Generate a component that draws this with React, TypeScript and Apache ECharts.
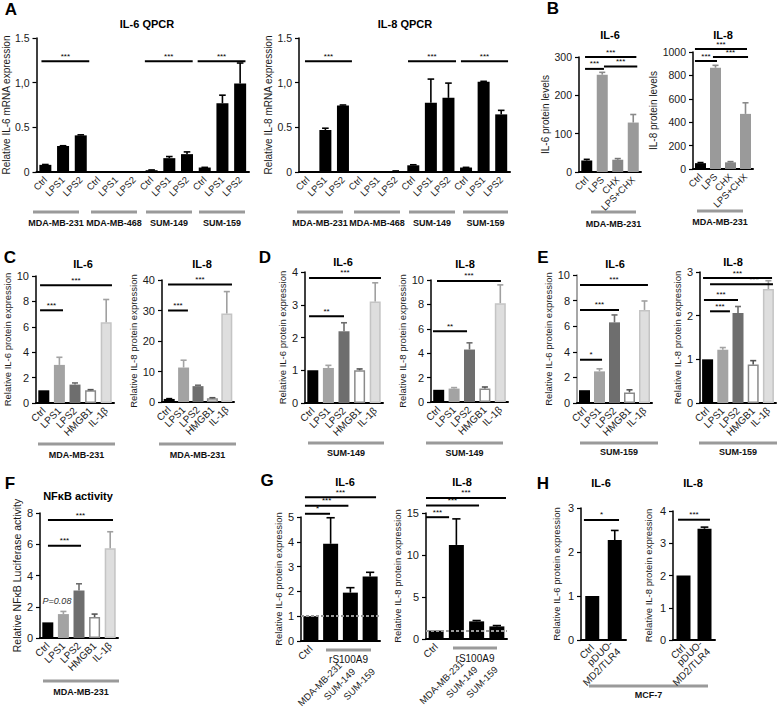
import React, { useEffect, useRef } from "react";
import * as echarts from "echarts";

const FONT = '"Liberation Sans", Arial, Helvetica, sans-serif';

// ---------------- Panel A : qPCR ----------------
const qpcrCategories = ["Ctrl", "LPS1", "LPS2", "Ctrl", "LPS1", "LPS2", "Ctrl", "LPS1", "LPS2", "Ctrl", "LPS1", "LPS2"];
const qpcrCellLines = ["MDA-MB-231", "MDA-MB-468", "SUM-149", "SUM-159"];
const qpcrTickLabels = ["0", "0.5", "1,0", "1.5"];
const il6QpcrMeans = [0.08, 0.29, 0.41, 0.005, 0.005, 0.003, 0.02, 0.155, 0.2, 0.05, 0.77, 0.99];
const il6QpcrSem = [0.004, 0.004, 0.006, 0, 0, 0, 0.003, 0.018, 0.025, 0.002, 0.09, 0.23];
const il6QpcrSig = [[-0.22, 2.48, 1.24, "***"], [5.62, 8.32, 1.24, "***"], [8.6, 11.3, 1.24, "***"]];
const il8QpcrMeans = [0.005, 0.47, 0.745, 0.005, 0.005, 0.01, 0.075, 0.775, 0.83, 0.05, 1.01, 0.645];
const il8QpcrSem = [0, 0.02, 0.005, 0, 0, 0.002, 0.006, 0.265, 0.165, 0.002, 0.005, 0.045];
const il8QpcrSig = [[-0.16, 2.51, 1.24, "***"], [5.7, 8.43, 1.24, "***"], [8.71, 11.39, 1.24, "***"]];

// ---------------- Panel B : CHX ----------------
const chxCategories = ["Ctrl", "LPS", "CHX", "LPS+CHX"];
const chxCellLine = "MDA-MB-231";
const il6LevelMeans = [30, 254, 32, 129];
const il6LevelSem = [3, 6, 3, 21];
const il6LevelSig = [[-0.11, 3.2, 300, "***"], [-0.11, 1.11, 269, "***"], [1.11, 3.26, 275, "***"]];
const il8LevelMeans = [50, 866, 57, 471];
const il8LevelSem = [5, 20, 6, 95];
const il8LevelSig = [[-0.37, 3.1, 1025, "***"], [0.83, 3.17, 957, "***"], [-0.37, 1.1, 923, "***"]];

// ---------------- Panels C–F : treatments ----------------
const treatmentCategories = ["Ctrl", "LPS1", "LPS2", "HMGB1", "IL-1β"];
const cIl6Means = [1.0, 3.0, 1.45, 1.0, 6.35];
const cIl6Sem = [0, 0.6, 0.13, 0.05, 1.8];
const cIl6Sig = [[-0.24, 4.37, 9.27, "***"], [-0.24, 1.23, 7.3, "***"]];
const cIl8Means = [1.0, 11.3, 5.2, 1.2, 29.0];
const cIl8Sem = [0.1, 2.4, 0.3, 0.2, 7.2];
const cIl8Sig = [[-0.08, 4.36, 38.5, "***"], [-0.08, 1.3, 30, "***"]];

const dIl6Means = [1.0, 1.07, 2.19, 1.0, 3.1];
const dIl6Sem = [0, 0.08, 0.26, 0.04, 0.57];
const dIl6Sig = [[-0.24, 4.37, 3.82, "***"], [-0.24, 2.0, 2.65, "**"]];
const dIl8Means = [1.0, 1.1, 4.3, 1.1, 8.1];
const dIl8Sem = [0, 0.08, 0.55, 0.13, 1.5];
const dIl8Sig = [[-0.11, 4.04, 9.92, "***"], [-0.37, 1.84, 5.8, "**"]];

const eIl6Means = [1.0, 2.47, 6.3, 0.83, 7.27];
const eIl6Sem = [0, 0.2, 0.58, 0.2, 0.7];
const eIl6Sig = [[-0.3, 4.23, 9.22, "***"], [-0.3, 2.3, 7.27, "***"], [-0.3, 1.17, 3.38, "*"]];
const eIl8Means = [1.0, 1.22, 2.06, 0.88, 2.61];
const eIl8Sem = [0, 0.05, 0.15, 0.09, 0.19];
const eIl8Sig = [[-0.3, 4.24, 2.86, "***"], [0.16, 4.3, 2.72, "***", 0.7], [-0.24, 2.0, 2.36, "***"], [0.16, 1.47, 2.1, "***"]];

const fNfkbMeans = [1.0, 1.53, 3.04, 1.34, 5.74];
const fNfkbSem = [0, 0.17, 0.43, 0.19, 1.06];
const fNfkbSig = [[0.01, 4.18, 7.55, "***"], [0.01, 2.13, 5.9, "***"]];
const fPValueNote = "P=0.08";

// ---------------- Panel G : rS100A9 ----------------
const s100Categories = ["Ctrl", "MDA-MB-231", "SUM-149", "SUM-159"];
const s100Treatment = "rS100A9";
const gIl6Means = [1.0, 3.92, 1.95, 2.6];
const gIl6Sem = [0, 1.05, 0.2, 0.17];
const gIl6Sig = [[-0.3, 0.97, 5.13, "*"], [-0.3, 1.9, 5.45, "***"], [-0.3, 3.3, 5.8, "***"]];
const gIl8Means = [1.0, 11.2, 2.1, 1.5];
const gIl8Sem = [0, 3.1, 0.1, 0.1];
const gIl8Sig = [[-0.5, 0.64, 14.5, "***"], [-0.5, 2.12, 15.9, "***"], [-0.5, 3.45, 16.8, "***"]];
const baselineValue = 1;

// ---------------- Panel H : TLR4 ----------------
const tlr4Categories = ["Ctrl", "pDUO-\nMD2/TLR4"];
const tlr4CellLine = "MCF-7";
const hIl6Means = [1.0, 2.27];
const hIl6Sem = [0, 0.22];
const hIl6Sig = [[-0.37, 1.19, 2.73, "*"]];
const hIl8Means = [2.0, 3.45];
const hIl8Sem = [0, 0.05];
const hIl8Sig = [[-0.26, 1.26, 3.73, "***"]];

// ---------------- styles ----------------
const BLACK = "#000000";
const treatFill = ["#000000", "#a3a3a3", "#6e6e6e", "#ffffff", "#dedede"];
const treatBorder = ["#000000", "#a3a3a3", "#6e6e6e", "#8a8a8a", "#c4c4c4"];
const treatErr = ["#000000", "#a3a3a3", "#6e6e6e", "#555555", "#a0a0a0"];
const chxFill = ["#000000", "#9a9a9a", "#878787", "#9a9a9a"];
const chxErr = ["#000000", "#8a8a8a", "#777777", "#8a8a8a"];

type Plot = {
  cats: string[];
  means: number[];
  sem: number[];
  sig: any[];
  box: [number, number, number, number];
  max: number;
  interval: number;
  yName: string;
  nameGap: number;
  nameFont?: number;
  barW: number;
  fill: string[];
  border: string[];
  err: string[];
  yFmt?: (v: number, i: number) => string;
  xFont?: number;
  yFont?: number;
  xFmt?: (v: string, i: number) => string;
  yAxisColor?: string;
  baseline?: number;
  lowLabels?: [number, number];
};

const rep = (c: string, n: number) => Array.from({ length: n }, () => c);
const plain = (v: number) => String(v);

const plots: Plot[] = [
  {
    cats: qpcrCategories, means: il6QpcrMeans, sem: il6QpcrSem, sig: il6QpcrSig,
    box: [35, 249, 38, 172], max: 1.5, interval: 0.5, yName: "Relative IL-6 mRNA expression",
    nameGap: 20, nameFont: 10, barW: 12, fill: rep(BLACK, 12), border: rep(BLACK, 12), err: rep(BLACK, 12),
    yFmt: (_v, i) => qpcrTickLabels[i], xFont: 9.5, yFont: 10.5,
  },
  {
    cats: qpcrCategories, means: il8QpcrMeans, sem: il8QpcrSem, sig: il8QpcrSig,
    box: [299, 510, 38, 172], max: 1.5, interval: 0.5, yName: "Relative IL-8 mRNA expression",
    nameGap: 24, nameFont: 10, barW: 12, fill: rep(BLACK, 12), border: rep(BLACK, 12), err: rep(BLACK, 12),
    yFmt: (_v, i) => qpcrTickLabels[i], xFont: 9.5, yFont: 10.5,
  },
  {
    cats: chxCategories, means: il6LevelMeans, sem: il6LevelSem, sig: il6LevelSig,
    box: [579, 641, 57, 172], max: 300, interval: 100, yName: "IL-6 protein levels",
    nameGap: 22, nameFont: 10, barW: 11, fill: chxFill, border: chxFill, err: chxErr, xFont: 9.5, yFont: 10.5,
  },
  {
    cats: chxCategories, means: il8LevelMeans, sem: il8LevelSem, sig: il8LevelSig,
    box: [693, 753, 52, 169], max: 1000, interval: 200, yName: "IL-8 protein levels",
    nameGap: 30, nameFont: 10, barW: 11, fill: chxFill, border: chxFill, err: chxErr, xFont: 9.5, yFont: 10.5,
  },
  {
    cats: treatmentCategories, means: cIl6Means, sem: cIl6Sem, sig: cIl6Sig,
    box: [36, 114, 276, 403], max: 10, interval: 2, yName: "Relative IL-6 protein expression",
    nameGap: 19, barW: 11, fill: treatFill, border: treatBorder, err: treatErr,
  },
  {
    cats: treatmentCategories, means: cIl8Means, sem: cIl8Sem, sig: cIl8Sig,
    box: [162, 234, 280, 402], max: 40, interval: 10, yName: "Relative IL-8 protein expression",
    nameGap: 19, barW: 11, fill: treatFill, border: treatBorder, err: treatErr,
  },
  {
    cats: treatmentCategories, means: dIl6Means, sem: dIl6Sem, sig: dIl6Sig,
    box: [305, 383, 272, 403], max: 4, interval: 1, yName: "Relative IL-6 protein expression",
    nameGap: 17, barW: 11, fill: treatFill, border: treatBorder, err: treatErr,
  },
  {
    cats: treatmentCategories, means: dIl8Means, sem: dIl8Sem, sig: dIl8Sig,
    box: [431, 508, 280, 402], max: 10, interval: 2, yName: "Relative IL-8 protein expression",
    nameGap: 21, barW: 11, fill: treatFill, border: treatBorder, err: treatErr,
  },
  {
    cats: treatmentCategories, means: eIl6Means, sem: eIl6Sem, sig: eIl6Sig,
    box: [577, 652, 275, 403], max: 10, interval: 2, yName: "Relative IL-6 protein expression",
    nameGap: 19, barW: 11, fill: treatFill, border: treatBorder, err: treatErr, yAxisColor: "#8a8a8a",
  },
  {
    cats: treatmentCategories, means: eIl8Means, sem: eIl8Sem, sig: eIl8Sig,
    box: [700, 776, 272, 403], max: 3, interval: 1, yName: "Relative IL-8 protein expression",
    nameGap: 18, barW: 11, fill: treatFill, border: treatBorder, err: treatErr,
  },
  {
    cats: treatmentCategories, means: fNfkbMeans, sem: fNfkbSem, sig: fNfkbSig,
    box: [40, 118, 513, 638], max: 8, interval: 2, yName: "Relative NFκB Luciferase activity",
    nameGap: 15, nameFont: 10.5, barW: 11, fill: treatFill, border: treatBorder, err: treatErr,
  },
  {
    cats: s100Categories, means: gIl6Means, sem: gIl6Sem, sig: gIl6Sig,
    box: [301, 380, 517, 641], max: 5, interval: 1, yName: "Relative IL-6 protein expression",
    nameGap: 14, barW: 15, fill: rep(BLACK, 4), border: rep(BLACK, 4), err: rep(BLACK, 4),
    xFmt: (v, i) => (i === 0 ? v : ""), baseline: baselineValue, lowLabels: [-11, 43],
  },
  {
    cats: s100Categories, means: gIl8Means, sem: gIl8Sem, sig: gIl8Sig,
    box: [426, 507, 513, 639], max: 15, interval: 5, yName: "Relative IL-8 protein expression",
    nameGap: 18, barW: 15, fill: rep(BLACK, 4), border: rep(BLACK, 4), err: rep(BLACK, 4),
    xFmt: (v, i) => (i === 0 ? v : ""), baseline: baselineValue, lowLabels: [-15, 43],
  },
  {
    cats: tlr4Categories, means: hIl6Means, sem: hIl6Sem, sig: hIl6Sig,
    box: [581, 626, 508, 640], max: 3, interval: 1, yName: "Relative IL-6 protein expression",
    nameGap: 20, barW: 14, fill: rep(BLACK, 2), border: rep(BLACK, 2), err: rep(BLACK, 2),
  },
  {
    cats: tlr4Categories, means: hIl8Means, sem: hIl8Sem, sig: hIl8Sig,
    box: [673, 715, 511, 640], max: 4, interval: 1, yName: "Relative IL-8 protein expression",
    nameGap: 20, barW: 14, fill: rep(BLACK, 2), border: rep(BLACK, 2), err: rep(BLACK, 2),
  },
];

// annotation layout (label texts come from the named arrays above)
const panelLetters: [string, number, number][] = [
  ["A", 11, 9], ["B", 553, 8], ["C", 10, 257], ["D", 265, 257],
  ["E", 543, 257], ["F", 10, 483], ["G", 267, 480], ["H", 543, 483],
];
const titles: [string, number, number][] = [
  ["IL-6 QPCR", 147, 24], ["IL-8 QPCR", 405, 24], ["IL-6", 610, 35], ["IL-8", 723, 35],
  ["IL-6", 83, 264], ["IL-8", 202, 264], ["IL-6", 343, 262], ["IL-8", 465, 264],
  ["IL-6", 615, 264], ["IL-8", 733, 262], ["NFκB activity", 78, 496],
  ["IL-6", 345, 482], ["IL-8", 462, 482], ["IL-6", 601, 483], ["IL-8", 693, 483],
];
const groupBars: [string, number, number, number, number, boolean][] = [
  [qpcrCellLines[0], 33, 79, 212, 223, true], [qpcrCellLines[1], 91, 137, 212, 223, true],
  [qpcrCellLines[2], 146, 192, 212, 223, true], [qpcrCellLines[3], 199, 245, 212, 223, true],
  [qpcrCellLines[0], 297, 343, 212, 223, true], [qpcrCellLines[1], 354, 400, 212, 223, true],
  [qpcrCellLines[2], 409, 455, 212, 223, true], [qpcrCellLines[3], 463, 508, 212, 223, true],
  [chxCellLine, 591, 636, 212, 224, true], [chxCellLine, 697, 743, 211, 222, true],
  [qpcrCellLines[0], 38, 115, 444, 455, true], [qpcrCellLines[0], 159, 236, 444, 455, true],
  [qpcrCellLines[2], 308, 384, 443, 453, true], [qpcrCellLines[2], 426, 503, 443, 453, true],
  [qpcrCellLines[3], 580, 658, 443, 452, true], [qpcrCellLines[3], 699, 777, 443, 452, true],
  [qpcrCellLines[0], 43, 119, 681, 692, true],
  [s100Treatment, 326, 371, 650, 659, false], [s100Treatment, 453, 497, 648, 658, false],
  [tlr4CellLine, 589, 708, 686, 695, true],
];

const centred = { align: "center", verticalAlign: "middle", textAlign: "center", textVerticalAlign: "middle" };

function buildOption() {
  const grid: any[] = [];
  const xAxis: any[] = [];
  const yAxis: any[] = [];
  const series: any[] = [];
  const graphic: any[] = [];

  plots.forEach((p) => {
    const gi = grid.length;
    const [x0, x1, yT, yB] = p.box;
    grid.push({ left: x0, top: yT, width: x1 - x0, height: yB - yT });
    xAxis.push({
      gridIndex: gi, type: "category", data: p.cats,
      axisLine: { lineStyle: { color: "#000", width: 2 } },
      axisTick: { alignWithLabel: true, length: 4, lineStyle: { color: "#000", width: 1.5 } },
      axisLabel: {
        interval: 0, rotate: 45, fontSize: p.xFont ?? 10, margin: 6, color: "#1a1a1a",
        fontFamily: FONT, formatter: p.xFmt, lineHeight: 11,
      },
    });
    yAxis.push({
      gridIndex: gi, type: "value", min: 0, max: p.max, interval: p.interval,
      axisLine: { show: true, lineStyle: { color: p.yAxisColor ?? "#000", width: 1.5 } },
      axisTick: { show: true, length: 4, lineStyle: { color: "#000", width: 1.2 } },
      splitLine: { show: false },
      axisLabel: { fontSize: p.yFont ?? 11, margin: 7, color: "#1a1a1a", fontFamily: FONT, formatter: p.yFmt ?? plain },
      name: p.yName, nameLocation: "middle", nameRotate: 90, nameGap: p.nameGap,
      nameTextStyle: { fontSize: p.nameFont ?? 9.5, fontFamily: FONT, color: "#1a1a1a" },
    });
    const bar: any = {
      type: "bar", xAxisIndex: gi, yAxisIndex: gi, barWidth: p.barW, z: 2,
      data: p.means.map((v, i) => ({
        value: v,
        itemStyle: { color: p.fill[i], borderColor: p.border[i], borderWidth: p.fill[i] === p.border[i] ? 0 : 1.5 },
      })),
    };
    if (p.baseline != null) {
      bar.markLine = {
        silent: true, symbol: ["none", "none"], label: { show: false },
        lineStyle: { type: [3, 2], color: "#9a9a9a", width: 2 },
        data: [{ yAxis: p.baseline }], z: 5,
      };
    }
    series.push(bar);
    const capW = p.barW * 0.55;
    series.push({
      type: "custom", xAxisIndex: gi, yAxisIndex: gi, z: 3, clip: false,
      data: p.means.map((v, i) => [i, v, p.sem[i]]),
      renderItem: (params: any, api: any) => {
        const i = api.value(0), v = api.value(1), e = api.value(2);
        if (!e) return null;
        const a = api.coord([i, v]);
        const b = api.coord([i, v + e]);
        const col = p.err[params.dataIndex];
        return {
          type: "group",
          children: [
            { type: "line", shape: { x1: a[0], y1: a[1], x2: b[0], y2: b[1] }, style: { stroke: col, lineWidth: 1.6 } },
            { type: "line", shape: { x1: b[0] - capW / 2, y1: b[1], x2: b[0] + capW / 2, y2: b[1] }, style: { stroke: col, lineWidth: 1.6 } },
          ],
        };
      },
    });
    series.push({
      type: "custom", xAxisIndex: gi, yAxisIndex: gi, z: 4, clip: false,
      data: p.sig.map((s: any) => [0, s[2], s[0], s[1], s[4] ?? 0.5]),
      renderItem: (params: any, api: any) => {
        const y = api.value(1), from = api.value(2), to = api.value(3), at = api.value(4);
        const base = api.coord([0, y]);
        const bw = api.size([1, 0])[0];
        const xa = base[0] + from * bw, xb = base[0] + to * bw;
        const label = p.sig[params.dataIndex][3];
        return {
          type: "group",
          children: [
            { type: "line", shape: { x1: xa, y1: base[1], x2: xb, y2: base[1] }, style: { stroke: "#000", lineWidth: 2 } },
            {
              type: "text", x: xa + (xb - xa) * at, y: base[1] - 1,
              style: { text: label, fontSize: 8, fontFamily: FONT, fill: "#000", align: "center", verticalAlign: "bottom", textAlign: "center", textVerticalAlign: "bottom" },
            },
          ],
        };
      },
    });

    if (p.lowLabels) {
      // rotated, centred source labels under the rS100A9 bar
      const [dx, dy] = p.lowLabels;
      const band = (x1 - x0) / p.cats.length;
      p.cats.forEach((c, i) => {
        if (i === 0) return;
        graphic.push({
          type: "text", x: x0 + (i + 0.5) * band + dx, y: yB + dy, rotation: Math.PI / 4,
          style: { text: c, fontSize: 9.5, fontFamily: FONT, fill: "#1a1a1a", ...centred },
        });
      });
    }
  });

  panelLetters.forEach(([t, x, y]) =>
    graphic.push({ type: "text", x, y, style: { text: t, fontSize: 17, fontWeight: "bold", fontFamily: FONT, fill: "#000", ...centred } })
  );
  titles.forEach(([t, x, y]) =>
    graphic.push({ type: "text", x, y, style: { text: t, fontSize: 11, fontWeight: "bold", fontFamily: FONT, fill: "#000", ...centred } })
  );
  groupBars.forEach(([t, xa, xb, ly, ty, bold]) => {
    graphic.push({ type: "line", shape: { x1: xa, y1: ly, x2: xb, y2: ly }, style: { stroke: "#9a9a9a", lineWidth: 3 } });
    graphic.push({
      type: "text", x: (xa + xb) / 2, y: ty,
      style: { text: t, fontSize: bold ? 9 : 10, fontWeight: bold ? "bold" : "normal", fontFamily: FONT, fill: "#111", ...centred },
    });
  });
  graphic.push({
    type: "text", x: 57, y: 601,
    style: { text: fPValueNote, fontSize: 9, fontStyle: "italic", fontFamily: FONT, fill: "#333", ...centred },
  });

  return { animation: false, backgroundColor: "#ffffff", grid, xAxis, yAxis, series, graphic };
}

export default function App() {
  const ref = useRef<HTMLDivElement>(null);
  useEffect(() => {
    document.body.style.margin = "0";
    const chart = echarts.init(ref.current!, null, { renderer: "svg" });
    chart.setOption(buildOption() as any);
    return () => chart.dispose();
  }, []);
  return <div ref={ref} style={{ width: 777, height: 708 }} />;
}
